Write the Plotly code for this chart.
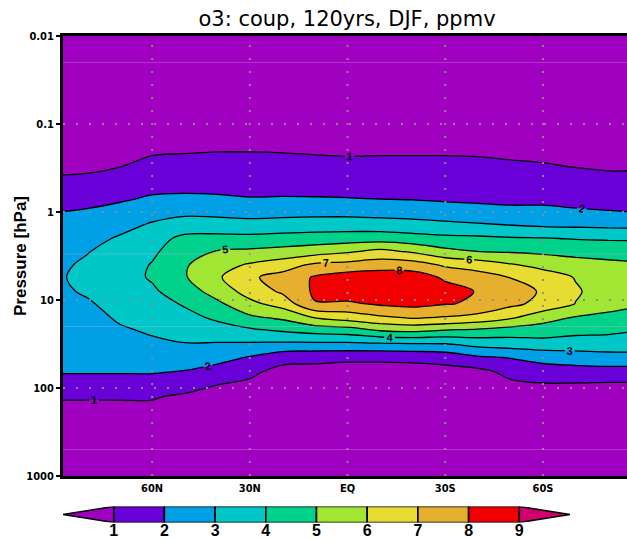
import math
import plotly.graph_objects as go

# ---------------- data ----------------
title_text = "o3: coup, 120yrs, DJF, ppmv"
lats = [87.5, 80, 70, 60, 50, 40, 30, 20, 10, 0, -10, -20, -30, -40, -50, -60, -70, -80, -87.5]
pressure = [0.01, 0.05, 0.1, 0.2, 0.3, 0.5, 0.7, 1, 1.4, 2, 2.8, 4, 5.5, 8, 11, 16, 22, 32, 45, 65, 90, 125, 200, 500, 1000]
# ozone (ppmv), one row per pressure level, columns follow `lats` (north -> south)
o3_ppmv = [
    [0.3] * 19,
    [0.5] * 19,
    [0.65, 0.65, 0.68, 0.7, 0.7, 0.72, 0.72, 0.72, 0.75, 0.75, 0.75, 0.74, 0.74, 0.74, 0.72, 0.7, 0.68, 0.66, 0.66],
    [0.8, 0.8, 0.85, 0.9, 0.93, 0.97, 0.97, 0.95, 0.9, 0.88, 0.9, 0.9, 0.9, 0.88, 0.85, 0.82, 0.8, 0.78, 0.78],
    [0.85, 0.85, 0.97, 1.2, 1.27, 1.3, 1.3, 1.28, 1.25, 1.2, 1.2, 1.2, 1.2, 1.18, 1.1, 1.05, 0.97, 0.9, 0.9],
    [1.18, 1.25, 1.5, 1.73, 1.76, 1.77, 1.73, 1.72, 1.72, 1.7, 1.68, 1.65, 1.62, 1.6, 1.55, 1.5, 1.35, 1.3, 1.3],
    [1.62, 1.7, 1.87, 2.1, 2.15, 2.1, 2.03, 2.05, 2.04, 2.02, 1.97, 1.93, 1.85, 1.8, 1.8, 1.8, 1.7, 1.65, 1.63],
    [2.01, 2.1, 2.3, 2.65, 2.8, 2.72, 2.64, 2.68, 2.7, 2.7, 2.62, 2.56, 2.45, 2.35, 2.2, 2.2, 2.12, 2.05, 2.0],
    [2.2, 2.45, 2.7, 3.1, 3.4, 3.42, 3.34, 3.41, 3.48, 3.5, 3.45, 3.35, 3.22, 3.1, 2.98, 2.85, 2.8, 2.75, 2.72],
    [2.45, 2.7, 3.1, 3.6, 4.25, 4.3, 4.29, 4.38, 4.45, 4.52, 4.55, 4.4, 4.25, 4.2, 4.1, 4.05, 3.95, 3.9, 3.88],
    [2.7, 2.95, 3.35, 3.85, 4.5, 5.05, 5.17, 5.32, 5.55, 5.85, 6.25, 5.85, 5.25, 4.98, 4.9, 4.8, 4.65, 4.6, 4.55],
    [2.88, 3.15, 3.55, 4.05, 4.9, 5.6, 6.12, 6.54, 7.2, 7.35, 7.55, 7.5, 6.85, 6.55, 6.1, 5.7, 5.45, 5.25, 5.15],
    [2.95, 3.25, 3.6, 4.1, 4.92, 5.85, 6.85, 7.35, 8.1, 8.45, 8.55, 8.5, 7.85, 7.45, 6.97, 6.5, 5.95, 5.55, 5.45],
    [2.88, 3.1, 3.5, 3.85, 4.5, 5.4, 6.4, 7.15, 8.15, 8.6, 8.75, 8.7, 8.35, 7.95, 7.4, 6.9, 6.1, 5.6, 5.5],
    [2.75, 2.9, 3.3, 3.6, 4.1, 4.8, 5.75, 6.42, 7.95, 7.85, 8.15, 8.3, 8.05, 7.9, 7.25, 6.7, 5.98, 5.3, 5.1],
    [2.6, 2.7, 3.1, 3.35, 3.7, 4.15, 4.8, 5.15, 6.0, 6.4, 6.8, 7.05, 6.9, 6.6, 6.1, 5.35, 4.9, 4.8, 4.75],
    [2.45, 2.55, 2.9, 3.1, 3.35, 3.6, 3.85, 4.13, 4.4, 4.55, 5.1, 5.25, 5.0, 4.85, 4.6, 4.55, 4.3, 4.2, 4.05],
    [2.3, 2.4, 2.65, 2.85, 2.95, 2.9, 2.85, 2.78, 2.76, 2.75, 2.8, 2.85, 2.9, 3.25, 3.4, 3.55, 3.5, 3.55, 3.55],
    [2.17, 2.2, 2.4, 2.5, 2.6, 2.35, 1.93, 1.35, 1.25, 1.2, 1.2, 1.25, 1.4, 1.85, 2.05, 2.3, 2.5, 2.6, 2.6],
    [2.1, 2.1, 2.1, 2.1, 1.95, 1.6, 1.2, 0.7, 0.7, 0.6, 0.6, 0.6, 0.65, 0.75, 1.25, 1.6, 1.6, 1.65, 1.65],
    [1.5, 1.5, 1.5, 1.5, 1.3, 1.02, 0.85, 0.7, 0.65, 0.6, 0.6, 0.55, 0.6, 0.65, 0.85, 0.95, 0.95, 0.9, 0.9],
    [1.05, 1.05, 1.05, 1.05, 0.9, 0.85, 0.75, 0.65, 0.6, 0.6, 0.55, 0.55, 0.55, 0.6, 0.65, 0.7, 0.7, 0.7, 0.7],
    [0.8, 0.8, 0.8, 0.8, 0.75, 0.7, 0.65, 0.6, 0.55, 0.55, 0.55, 0.55, 0.55, 0.55, 0.55, 0.6, 0.6, 0.6, 0.6],
    [0.5] * 19,
    [0.4] * 19,
]
levels = [1, 2, 3, 4, 5, 6, 7, 8, 9]
band_colors = ["#a000c0", "#6a00d8", "#00a0e6", "#00c8c8", "#00d28c",
               "#a0e632", "#e6dc32", "#e6af2d", "#f00000", "#d2006e"]
lat_ticks = [60, 30, 0, -30, -60]
lat_ticklabels = ["60N", "30N", "EQ", "30S", "60S"]
p_ticks = [1000, 100, 10, 1, 0.1, 0.01]
p_ticklabels = ["1000", "100", "10", "1", "0.1", "0.01"]
grid_p = [100, 10, 1, 0.1]
seam_p = [0.02, 3, 20, 500]

# ---------------- figure ----------------
W, H = 627, 540
ML, MR, MT, MB = 63, 0, 36, 16
plot_w = W - ML - MR
plot_h = H - MT - MB
main_bottom = (H - MB - 476) / plot_h
cb_lo = (H - MB - 522.5) / plot_h
cb_hi = (H - MB - 506.5) / plot_h
p_top, p_bot = min(p_ticks), max(p_ticks)


def p_frac(p):
    """fraction of the pressure axis (0 = bottom) for a pressure value"""
    return (math.log10(p_bot) - math.log10(p)) / (math.log10(p_bot) - math.log10(p_top))


lats_asc = lats[::-1]
z_asc = [row[::-1] for row in o3_ppmv]

small_font = dict(family="Liberation Sans Narrow, DejaVu Sans Condensed, sans-serif",
                  size=11, color="black", weight="bold")

fig = go.Figure()
fig.add_trace(go.Contour(
    x=lats_asc, y=pressure, z=z_asc,
    autocontour=False,
    contours=dict(start=levels[0], end=levels[-1], size=1, coloring="fill",
                  showlabels=True,
                  labelfont=dict(family="Liberation Sans, Arial, sans-serif", size=11,
                                 color="black", weight="bold")),
    colorscale=[[i / (len(band_colors) - 1), c] for i, c in enumerate(band_colors)],
    line=dict(color="black", width=1.3),
    showscale=False, hoverinfo="skip",
    xaxis="x", yaxis="y",
))

# colour bar built from the levels
fig.add_trace(go.Bar(
    x=[(levels[i] + levels[i + 1]) / 2 for i in range(len(levels) - 1)],
    y=[1] * (len(levels) - 1), width=1,
    marker=dict(color=band_colors[1:-1], line=dict(color="black", width=1.6)),
    xaxis="x2", yaxis="y2", showlegend=False, hoverinfo="skip",
))
fig.add_trace(go.Scatter(
    x=[levels[0], levels[0] - 1, levels[0], levels[0]], y=[0, 0.5, 1, 0],
    fill="toself", fillcolor=band_colors[0], mode="lines",
    line=dict(color="black", width=1.6),
    xaxis="x2", yaxis="y2", showlegend=False, hoverinfo="skip",
))
fig.add_trace(go.Scatter(
    x=[levels[-1], levels[-1] + 1, levels[-1], levels[-1]], y=[0, 0.5, 1, 0],
    fill="toself", fillcolor=band_colors[-1], mode="lines",
    line=dict(color="black", width=1.6),
    xaxis="x2", yaxis="y2", showlegend=False, hoverinfo="skip",
))

shapes = []
for lt in lat_ticks:
    shapes.append(dict(type="line", xref="x", yref="y domain", x0=lt, x1=lt, y0=0, y1=1,
                       line=dict(color="rgba(140,140,140,0.95)", width=2, dash="2px,11px")))
for p in grid_p:
    shapes.append(dict(type="line", xref="x domain", yref="y domain", x0=0, x1=1,
                       y0=p_frac(p), y1=p_frac(p),
                       line=dict(color="rgba(140,140,140,0.95)", width=2, dash="2px,11px")))
for p in seam_p:
    shapes.append(dict(type="line", xref="x domain", yref="y domain", x0=0, x1=1,
                       y0=p_frac(p), y1=p_frac(p),
                       line=dict(color="rgba(235,170,235,0.3)", width=1)))

fig.update_layout(
    width=W, height=H,
    margin=dict(l=ML, r=MR, t=MT, b=MB, autoexpand=False),
    paper_bgcolor="white", plot_bgcolor="white",
    showlegend=False,
    title=dict(text=title_text, x=(347 - ML) / plot_w, xref="paper", xanchor="center",
               y=1 - 19 / H, yanchor="middle", automargin=False,
               font=dict(family="DejaVu Sans, sans-serif", size=21, color="black")),
    xaxis=dict(domain=[0, 1], anchor="y", range=[87.35, -85.8], automargin=False,
               tickmode="array", tickvals=lat_ticks, ticktext=lat_ticklabels,
               ticks="", tickfont=small_font, showgrid=False, zeroline=False,
               showline=True, linecolor="black", linewidth=3, mirror=True),
    yaxis=dict(domain=[main_bottom, 1], anchor="x", type="log", range=[3, -2], automargin=False,
               tickmode="array", tickvals=p_ticks, ticktext=p_ticklabels,
               ticks="outside", ticklen=4, tickwidth=2, tickcolor="black",
               tickfont=small_font, showgrid=False, zeroline=False,
               showline=True, linecolor="black", linewidth=3, mirror=False),
    xaxis2=dict(domain=[0, (570 - ML) / plot_w], anchor="free", position=cb_lo + 4 / plot_h,
                range=[levels[0] - 1, levels[-1] + 1],
                automargin=False,
                tickmode="array", tickvals=levels, ticktext=[str(v) for v in levels],
                ticks="", showgrid=False, zeroline=False, showline=False,
                tickfont=dict(family="Liberation Sans, Arial, sans-serif", size=16,
                              color="black", weight="bold")),
    yaxis2=dict(domain=[cb_lo, cb_hi], anchor="x2", range=[0, 1], automargin=False,
                visible=False, fixedrange=True),
    shapes=shapes,
    annotations=[dict(text="<b>Pressure [hPa]</b>", textangle=-90,
                      xref="paper", x=(20 - ML) / plot_w, xanchor="center",
                      yref="y domain", y=0.5, yanchor="middle", showarrow=False,
                      font=dict(family="Liberation Sans, Arial, sans-serif", size=17, color="black"))],
)

fig.write_html("out.html", config={"displayModeBar": False},
               post_script="document.body.style.margin='0px';")
